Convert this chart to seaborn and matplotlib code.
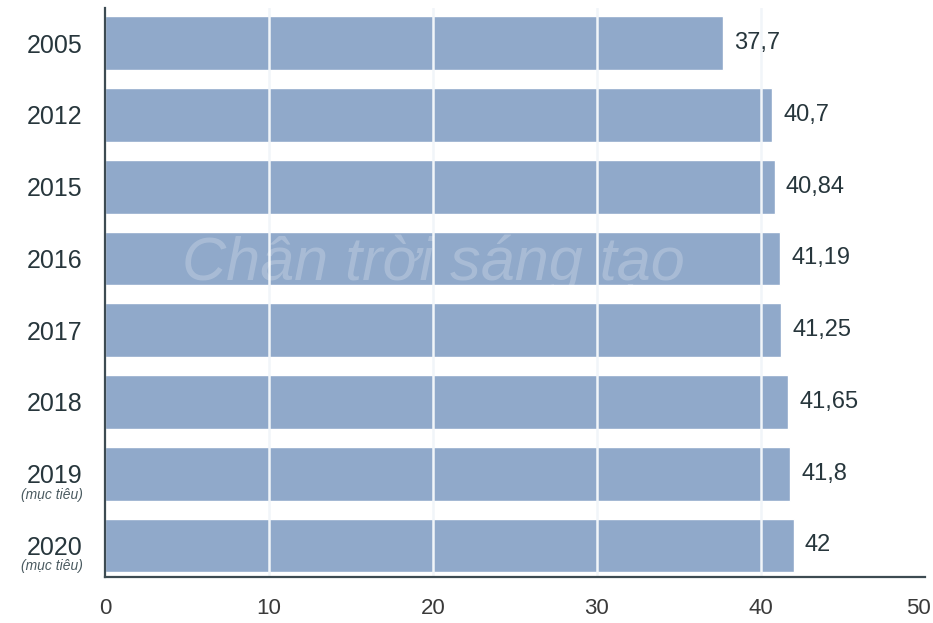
import matplotlib
matplotlib.use("Agg")
import matplotlib.pyplot as plt
import matplotlib.transforms as mtransforms
import seaborn as sns
import pandas as pd

years = ["2005", "2012", "2015", "2016", "2017", "2018", "2019", "2020"]
values = [37.7, 40.7, 40.84, 41.19, 41.25, 41.65, 41.8, 42]
notes = ["", "", "", "", "", "", "(mục tiêu)", "(mục tiêu)"]
x_ticks = [0, 10, 20, 30, 40, 50]

sns.set_theme(style="white")
plt.rcParams["font.family"] = ["Liberation Sans", "DejaVu Sans"]

df = pd.DataFrame({"year": years, "value": values})

fig = plt.figure(figsize=(9.33, 6.23), dpi=100)
ax = fig.add_axes([0.1125, 0.0738, 0.8789, 0.9132])

sns.barplot(data=df, x="value", y="year", orient="h", color="#90A9CA",
            saturation=1, width=0.75, ax=ax, zorder=2)

ax.set_xlim(0, 50)
ax.set_ylim(7.44, -0.49)
ax.set_xticks(x_ticks)
ax.set_xticklabels([str(t) for t in x_ticks])
ax.set_xlabel("")
ax.set_ylabel("")

# light vertical gridlines over the bars
for t in x_ticks[1:-1]:
    ax.axvline(t, color="#f1f5f9", lw=1.8, zorder=3)

for s in ["top", "right"]:
    ax.spines[s].set_visible(False)
for s in ["left", "bottom"]:
    ax.spines[s].set_color("#3d4b52")
    ax.spines[s].set_linewidth(1.6)
    ax.spines[s].set_zorder(4)

ax.tick_params(axis="x", direction="in", length=5, width=1.2, color="#3d4b52",
               labelsize=16, labelcolor="#3a3a3a", pad=15)
ax.tick_params(axis="y", length=0, labelsize=18, labelcolor="#27363c", pad=16)

# pull the last x label slightly left so it stays inside the figure
last = ax.get_xticklabels()[-1]
last.set_transform(last.get_transform() +
                   mtransforms.ScaledTranslation(-5 / 72, 0, fig.dpi_scale_trans))

# value labels with decimal comma
labels = [f"{v:g}".replace(".", ",") for v in values]
ax.bar_label(ax.containers[0], labels=labels, padding=8, fontsize=17,
             color="#27363c", zorder=5)

# "(mục tiêu)" notes below the target years
trans = mtransforms.blended_transform_factory(ax.transAxes, ax.transData)
for i, note in enumerate(notes):
    if note:
        ax.text(-0.027, i + 0.29, note, transform=trans, ha="right", va="center",
                fontsize=10, style="italic", color="#4a5a60")

# faint watermark
ax.text(0.40, 0.55, "Chân trời sáng tạo", transform=ax.transAxes, ha="center",
        va="center", fontsize=44, style="italic", color="white", alpha=0.22,
        zorder=6)

fig.savefig("out.png", dpi=100, facecolor="white")
